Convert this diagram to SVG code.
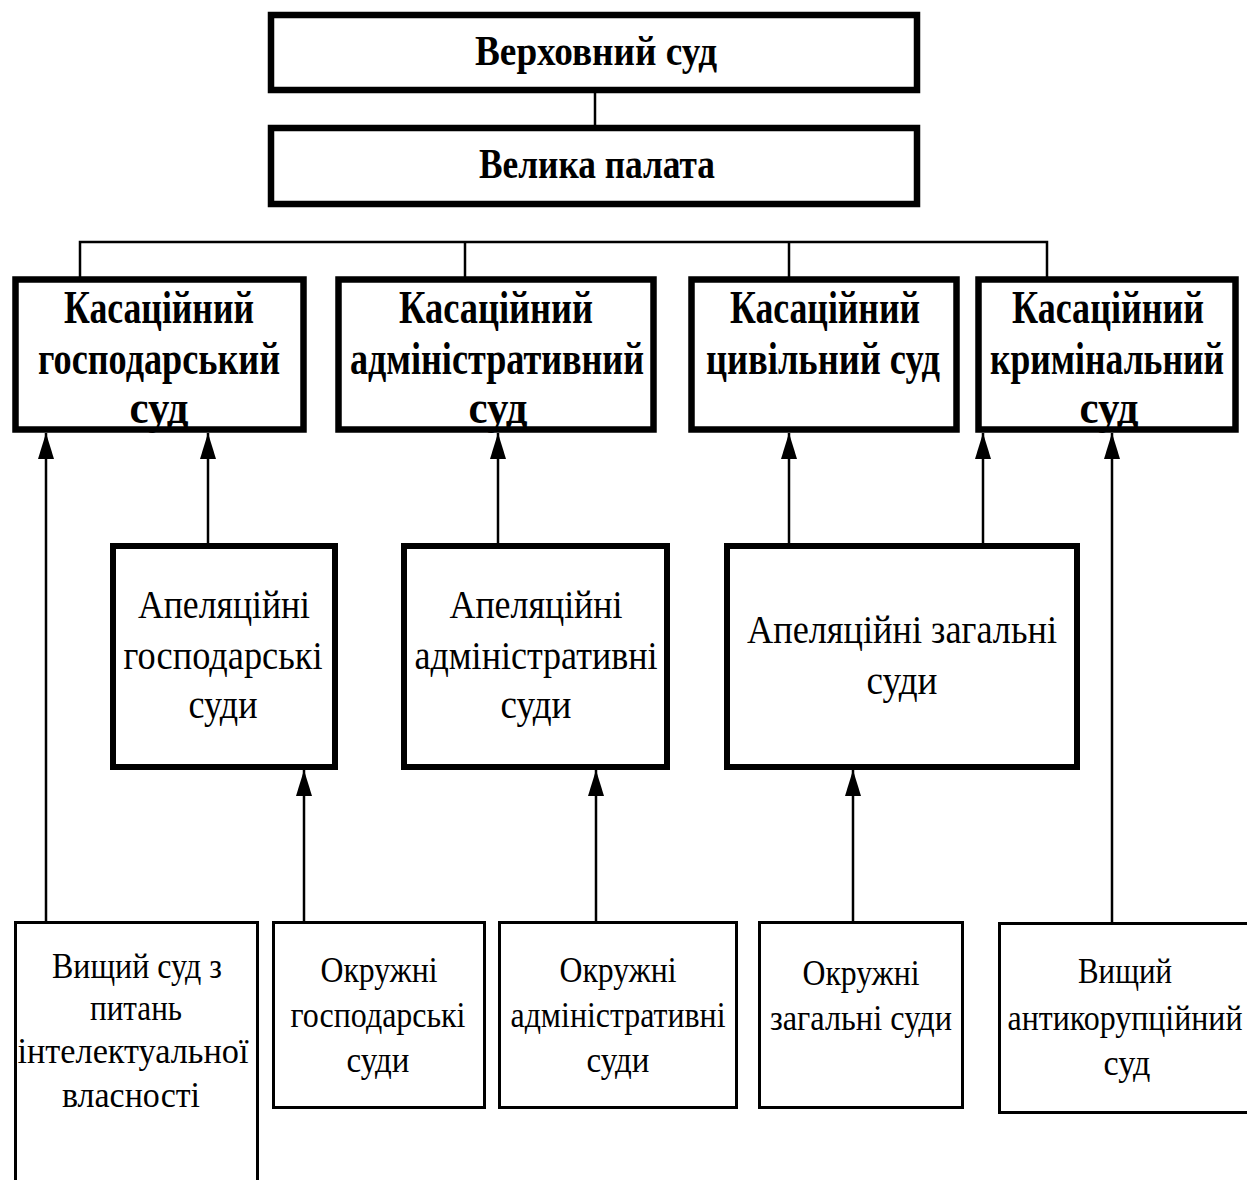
<svg xmlns="http://www.w3.org/2000/svg" width="1247" height="1180" viewBox="0 0 1247 1180">
<style>
.bg{fill:#fff}
.thick{fill:#fff;stroke:#000;stroke-width:6.5}
.mid{fill:#fff;stroke:#000;stroke-width:6}
.thin{fill:#fff;stroke:#000;stroke-width:3}
.b{font-family:"Liberation Serif","Times New Roman",serif;font-weight:bold;fill:#000;text-anchor:middle}
.r{font-family:"Liberation Serif","Times New Roman",serif;fill:#000;text-anchor:middle}
.top{font-size:42px}
.cas{font-size:46px}
.app{font-size:41px}
.low{font-size:35px}
.ln{fill:none;stroke:#000;stroke-width:2.5}
.ar{fill:none;stroke:#000;stroke-width:2.5;marker-end:url(#ah)}
</style>
<defs>
<marker id="ah" markerUnits="userSpaceOnUse" viewBox="0 0 26 16" refX="26" refY="8" markerWidth="26" markerHeight="16" orient="auto">
<path d="M0,0 L26,8 L0,16 Z" fill="#000"/>
</marker>
</defs>
<rect class="bg" x="0" y="0" width="1247" height="1180"/>

<g id="connectors">
<line class="ln" x1="595" y1="92" x2="595" y2="126"/>
<polyline class="ln" points="80,277 80,242 1047,242 1047,277"/>
<line class="ln" x1="465" y1="242" x2="465" y2="277"/>
<line class="ln" x1="789" y1="242" x2="789" y2="277"/>
<line class="ar" x1="46" y1="922" x2="46" y2="433"/>
<line class="ar" x1="208" y1="544" x2="208" y2="433"/>
<line class="ar" x1="498" y1="544" x2="498" y2="433"/>
<line class="ar" x1="789" y1="544" x2="789" y2="433"/>
<line class="ar" x1="983" y1="544" x2="983" y2="433"/>
<line class="ar" x1="1112" y1="923" x2="1112" y2="433"/>
<line class="ar" x1="304" y1="922" x2="304" y2="770"/>
<line class="ar" x1="596" y1="922" x2="596" y2="770"/>
<line class="ar" x1="853" y1="922" x2="853" y2="770"/>
</g>

<g id="n-supreme">
<rect class="thick" x="271" y="15" width="646" height="75"/>
<text class="b top" x="596" y="65" textLength="242" lengthAdjust="spacingAndGlyphs">Верховний суд</text>
</g>
<g id="n-grand">
<rect class="thick" x="271" y="128" width="646" height="76"/>
<text class="b top" x="597" y="178" textLength="236" lengthAdjust="spacingAndGlyphs">Велика палата</text>
</g>

<g id="n-cas-gosp">
<rect class="thick" x="15.5" y="279.5" width="288" height="150"/>
<text class="b cas" x="159" y="323" textLength="190" lengthAdjust="spacingAndGlyphs">Касаційний</text>
<text class="b cas" x="159" y="374" textLength="242" lengthAdjust="spacingAndGlyphs">господарський</text>
<text class="b cas" x="159" y="423" textLength="59" lengthAdjust="spacingAndGlyphs">суд</text>
</g>
<g id="n-cas-adm">
<rect class="thick" x="338.5" y="279.5" width="315" height="150"/>
<text class="b cas" x="496" y="323" textLength="194" lengthAdjust="spacingAndGlyphs">Касаційний</text>
<text class="b cas" x="497" y="374" textLength="294" lengthAdjust="spacingAndGlyphs">адміністративний</text>
<text class="b cas" x="498" y="423" textLength="59" lengthAdjust="spacingAndGlyphs">суд</text>
</g>
<g id="n-cas-civ">
<rect class="thick" x="691.5" y="279.5" width="265" height="150"/>
<text class="b cas" x="825" y="323" textLength="190" lengthAdjust="spacingAndGlyphs">Касаційний</text>
<text class="b cas" x="823" y="374" textLength="234" lengthAdjust="spacingAndGlyphs">цивільний суд</text>
</g>
<g id="n-cas-crim">
<rect class="thick" x="978.5" y="279.5" width="257" height="150"/>
<text class="b cas" x="1108" y="323" textLength="192" lengthAdjust="spacingAndGlyphs">Касаційний</text>
<text class="b cas" x="1107" y="374" textLength="234" lengthAdjust="spacingAndGlyphs">кримінальний</text>
<text class="b cas" x="1109" y="423" textLength="59" lengthAdjust="spacingAndGlyphs">суд</text>
</g>

<g id="n-app-gosp">
<rect class="mid" x="113" y="546" width="222" height="221"/>
<text class="r app" x="224" y="618" textLength="172" lengthAdjust="spacingAndGlyphs">Апеляційні</text>
<text class="r app" x="223" y="669" textLength="199" lengthAdjust="spacingAndGlyphs">господарські</text>
<text class="r app" x="223" y="718" textLength="69" lengthAdjust="spacingAndGlyphs">суди</text>
</g>
<g id="n-app-adm">
<rect class="mid" x="404" y="546" width="263" height="221"/>
<text class="r app" x="536" y="618" textLength="173" lengthAdjust="spacingAndGlyphs">Апеляційні</text>
<text class="r app" x="536" y="669" textLength="243" lengthAdjust="spacingAndGlyphs">адміністративні</text>
<text class="r app" x="536" y="718" textLength="71" lengthAdjust="spacingAndGlyphs">суди</text>
</g>
<g id="n-app-gen">
<rect class="mid" x="727" y="546" width="350" height="221"/>
<text class="r app" x="902" y="643" textLength="310" lengthAdjust="spacingAndGlyphs">Апеляційні загальні</text>
<text class="r app" x="902" y="694" textLength="71" lengthAdjust="spacingAndGlyphs">суди</text>
</g>

<g id="n-ip">
<rect class="thin" x="15.5" y="922.5" width="242" height="300"/>
<text class="r low" x="137" y="978" textLength="170" lengthAdjust="spacingAndGlyphs">Вищий суд з</text>
<text class="r low" x="136" y="1020" textLength="92" lengthAdjust="spacingAndGlyphs">питань</text>
<text class="r low" x="133" y="1063" textLength="231" lengthAdjust="spacingAndGlyphs">інтелектуальної</text>
<text class="r low" x="131" y="1107" textLength="138" lengthAdjust="spacingAndGlyphs">власності</text>
</g>
<g id="n-okr-gosp">
<rect class="thin" x="273.5" y="922.5" width="211" height="185"/>
<text class="r low" x="379" y="982" textLength="117" lengthAdjust="spacingAndGlyphs">Окружні</text>
<text class="r low" x="378" y="1027" textLength="175" lengthAdjust="spacingAndGlyphs">господарські</text>
<text class="r low" x="378" y="1072" textLength="63" lengthAdjust="spacingAndGlyphs">суди</text>
</g>
<g id="n-okr-adm">
<rect class="thin" x="499.5" y="922.5" width="237" height="185"/>
<text class="r low" x="618" y="982" textLength="117" lengthAdjust="spacingAndGlyphs">Окружні</text>
<text class="r low" x="618" y="1027" textLength="215" lengthAdjust="spacingAndGlyphs">адміністративні</text>
<text class="r low" x="618" y="1072" textLength="63" lengthAdjust="spacingAndGlyphs">суди</text>
</g>
<g id="n-okr-gen">
<rect class="thin" x="759.5" y="922.5" width="203" height="185"/>
<text class="r low" x="861" y="985" textLength="117" lengthAdjust="spacingAndGlyphs">Окружні</text>
<text class="r low" x="861" y="1030" textLength="182" lengthAdjust="spacingAndGlyphs">загальні суди</text>
</g>
<g id="n-anticor">
<rect class="thin" x="999.5" y="923.5" width="260" height="189"/>
<text class="r low" x="1125" y="983" textLength="94" lengthAdjust="spacingAndGlyphs">Вищий</text>
<text class="r low" x="1125" y="1030" textLength="235" lengthAdjust="spacingAndGlyphs">антикорупційний</text>
<text class="r low" x="1127" y="1075" textLength="47" lengthAdjust="spacingAndGlyphs">суд</text>
</g>
</svg>
